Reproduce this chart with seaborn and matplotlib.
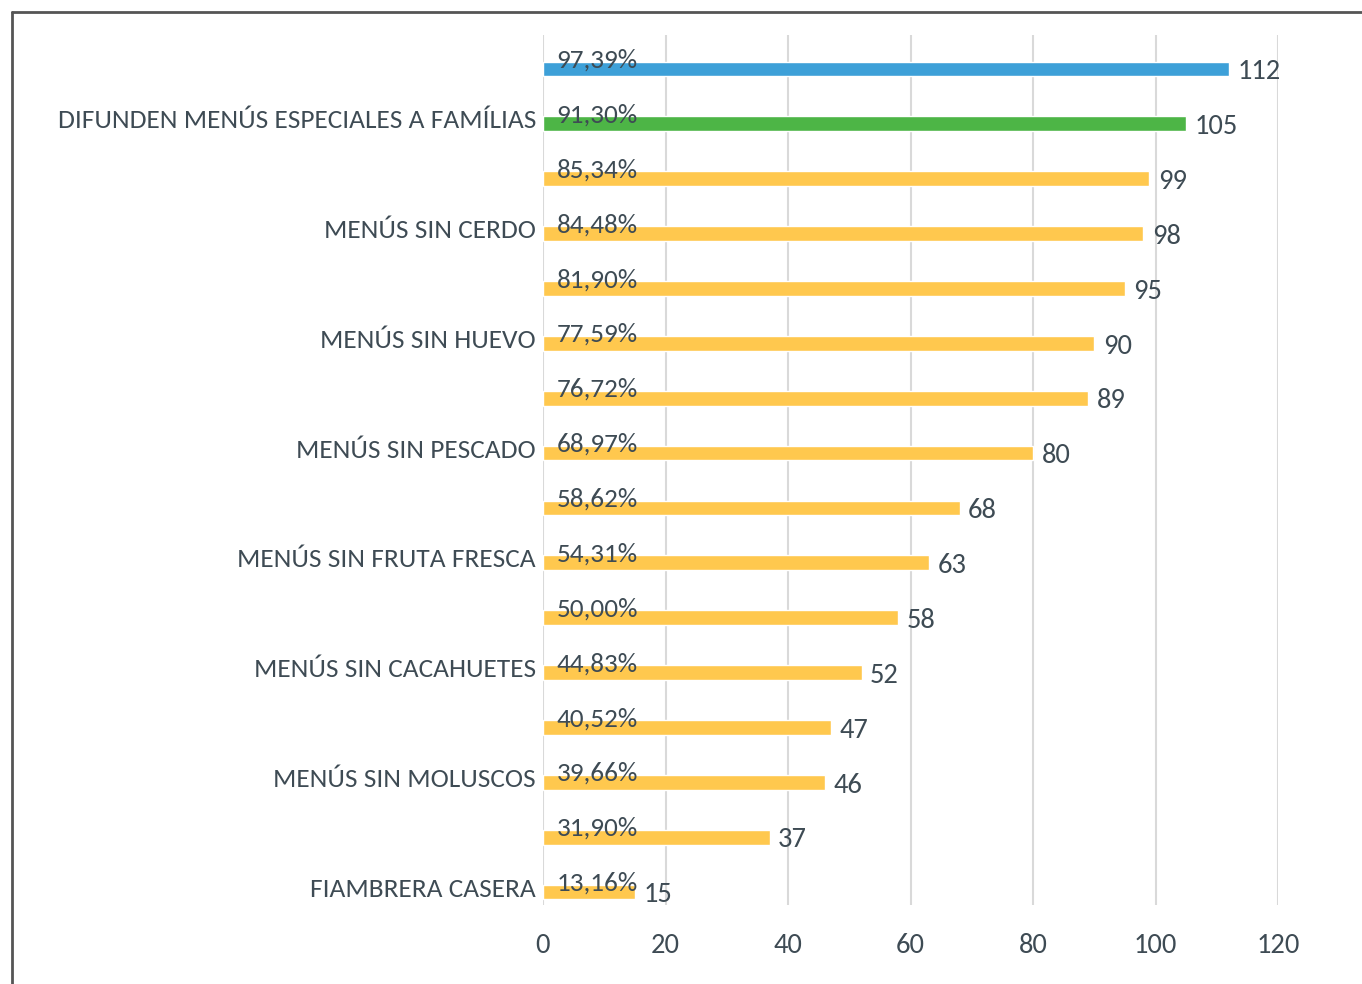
import matplotlib
matplotlib.use("Agg")
import matplotlib.pyplot as plt
from matplotlib.lines import Line2D
from matplotlib.transforms import ScaledTranslation
import seaborn as sns
import pandas as pd

labels = ["", "DIFUNDEN MENÚS ESPECIALES A FAMÍLIAS", "", "MENÚS SIN CERDO", "",
          "MENÚS SIN HUEVO", "", "MENÚS SIN PESCADO", "", "MENÚS SIN FRUTA FRESCA", "",
          "MENÚS SIN CACAHUETES", "", "MENÚS SIN MOLUSCOS", "", "FIAMBRERA CASERA"]
values = [112, 105, 99, 98, 95, 90, 89, 80, 68, 63, 58, 52, 47, 46, 37, 15]
percents = ["97,39%", "91,30%", "85,34%", "84,48%", "81,90%", "77,59%", "76,72%",
            "68,97%", "58,62%", "54,31%", "50,00%", "44,83%", "40,52%", "39,66%",
            "31,90%", "13,16%"]
groups = ["a", "b"] + ["c"] * 14
palette = {"a": "#3DA0D8", "b": "#4DB546", "c": "#FFC84E"}
xticks = [0, 20, 40, 60, 80, 100, 120]

sns.set_style("white")
plt.rcParams["font.family"] = ["Carlito", "DejaVu Sans"]
txt = "#3E4B54"

df = pd.DataFrame({"row": [str(i) for i in range(len(values))], "value": values, "group": groups})

fig = plt.figure(figsize=(13.62, 9.84), dpi=100)
ax = fig.add_axes([543 / 1362, 1 - 905 / 984, (1278 - 543) / 1362, (905 - 35) / 984])
sns.barplot(data=df, x="value", y="row", hue="group", palette=palette, dodge=False,
            width=0.27, orient="h", legend=False, ax=ax, saturation=1)

ax.set_xlim(0, 120)
ax.set_ylim(15 + 13 / 54.9, -34 / 54.9)
ax.set_xticks(xticks)
ax.set_xticklabels([str(t) for t in xticks], fontsize=20.5, color=txt)
ax.set_yticks(range(len(labels)))
ax.set_yticklabels(labels, fontsize=19.7, color=txt)
ax.tick_params(axis="both", length=0, pad=5)
ax.tick_params(axis="x", pad=20)
ax.set_xlabel("")
ax.set_ylabel("")
ax.grid(axis="x", color="#D9D9D9", linewidth=1.5)
ax.set_axisbelow(True)
for s in ax.spines.values():
    s.set_visible(False)
shift = ScaledTranslation(0, 5 / 100, fig.dpi_scale_trans)
for lab in ax.get_yticklabels():
    lab.set_transform(lab.get_transform() + shift)

for i, (v, p) in enumerate(zip(values, percents)):
    ax.text(2.2, i - 0.16, p, fontsize=19.5, color=txt, ha="left", va="center")
    ax.text(v + 1.4, i + 0.05, str(v), fontsize=20.5, color=txt, ha="left", va="center")

fig.add_artist(Line2D([12 / 1362, 12 / 1362], [0, 1 - 12 / 984], color="#555555", linewidth=2))
fig.add_artist(Line2D([12 / 1362, 1], [1 - 12 / 984, 1 - 12 / 984], color="#555555", linewidth=2))

fig.savefig("out.png", dpi=100)
